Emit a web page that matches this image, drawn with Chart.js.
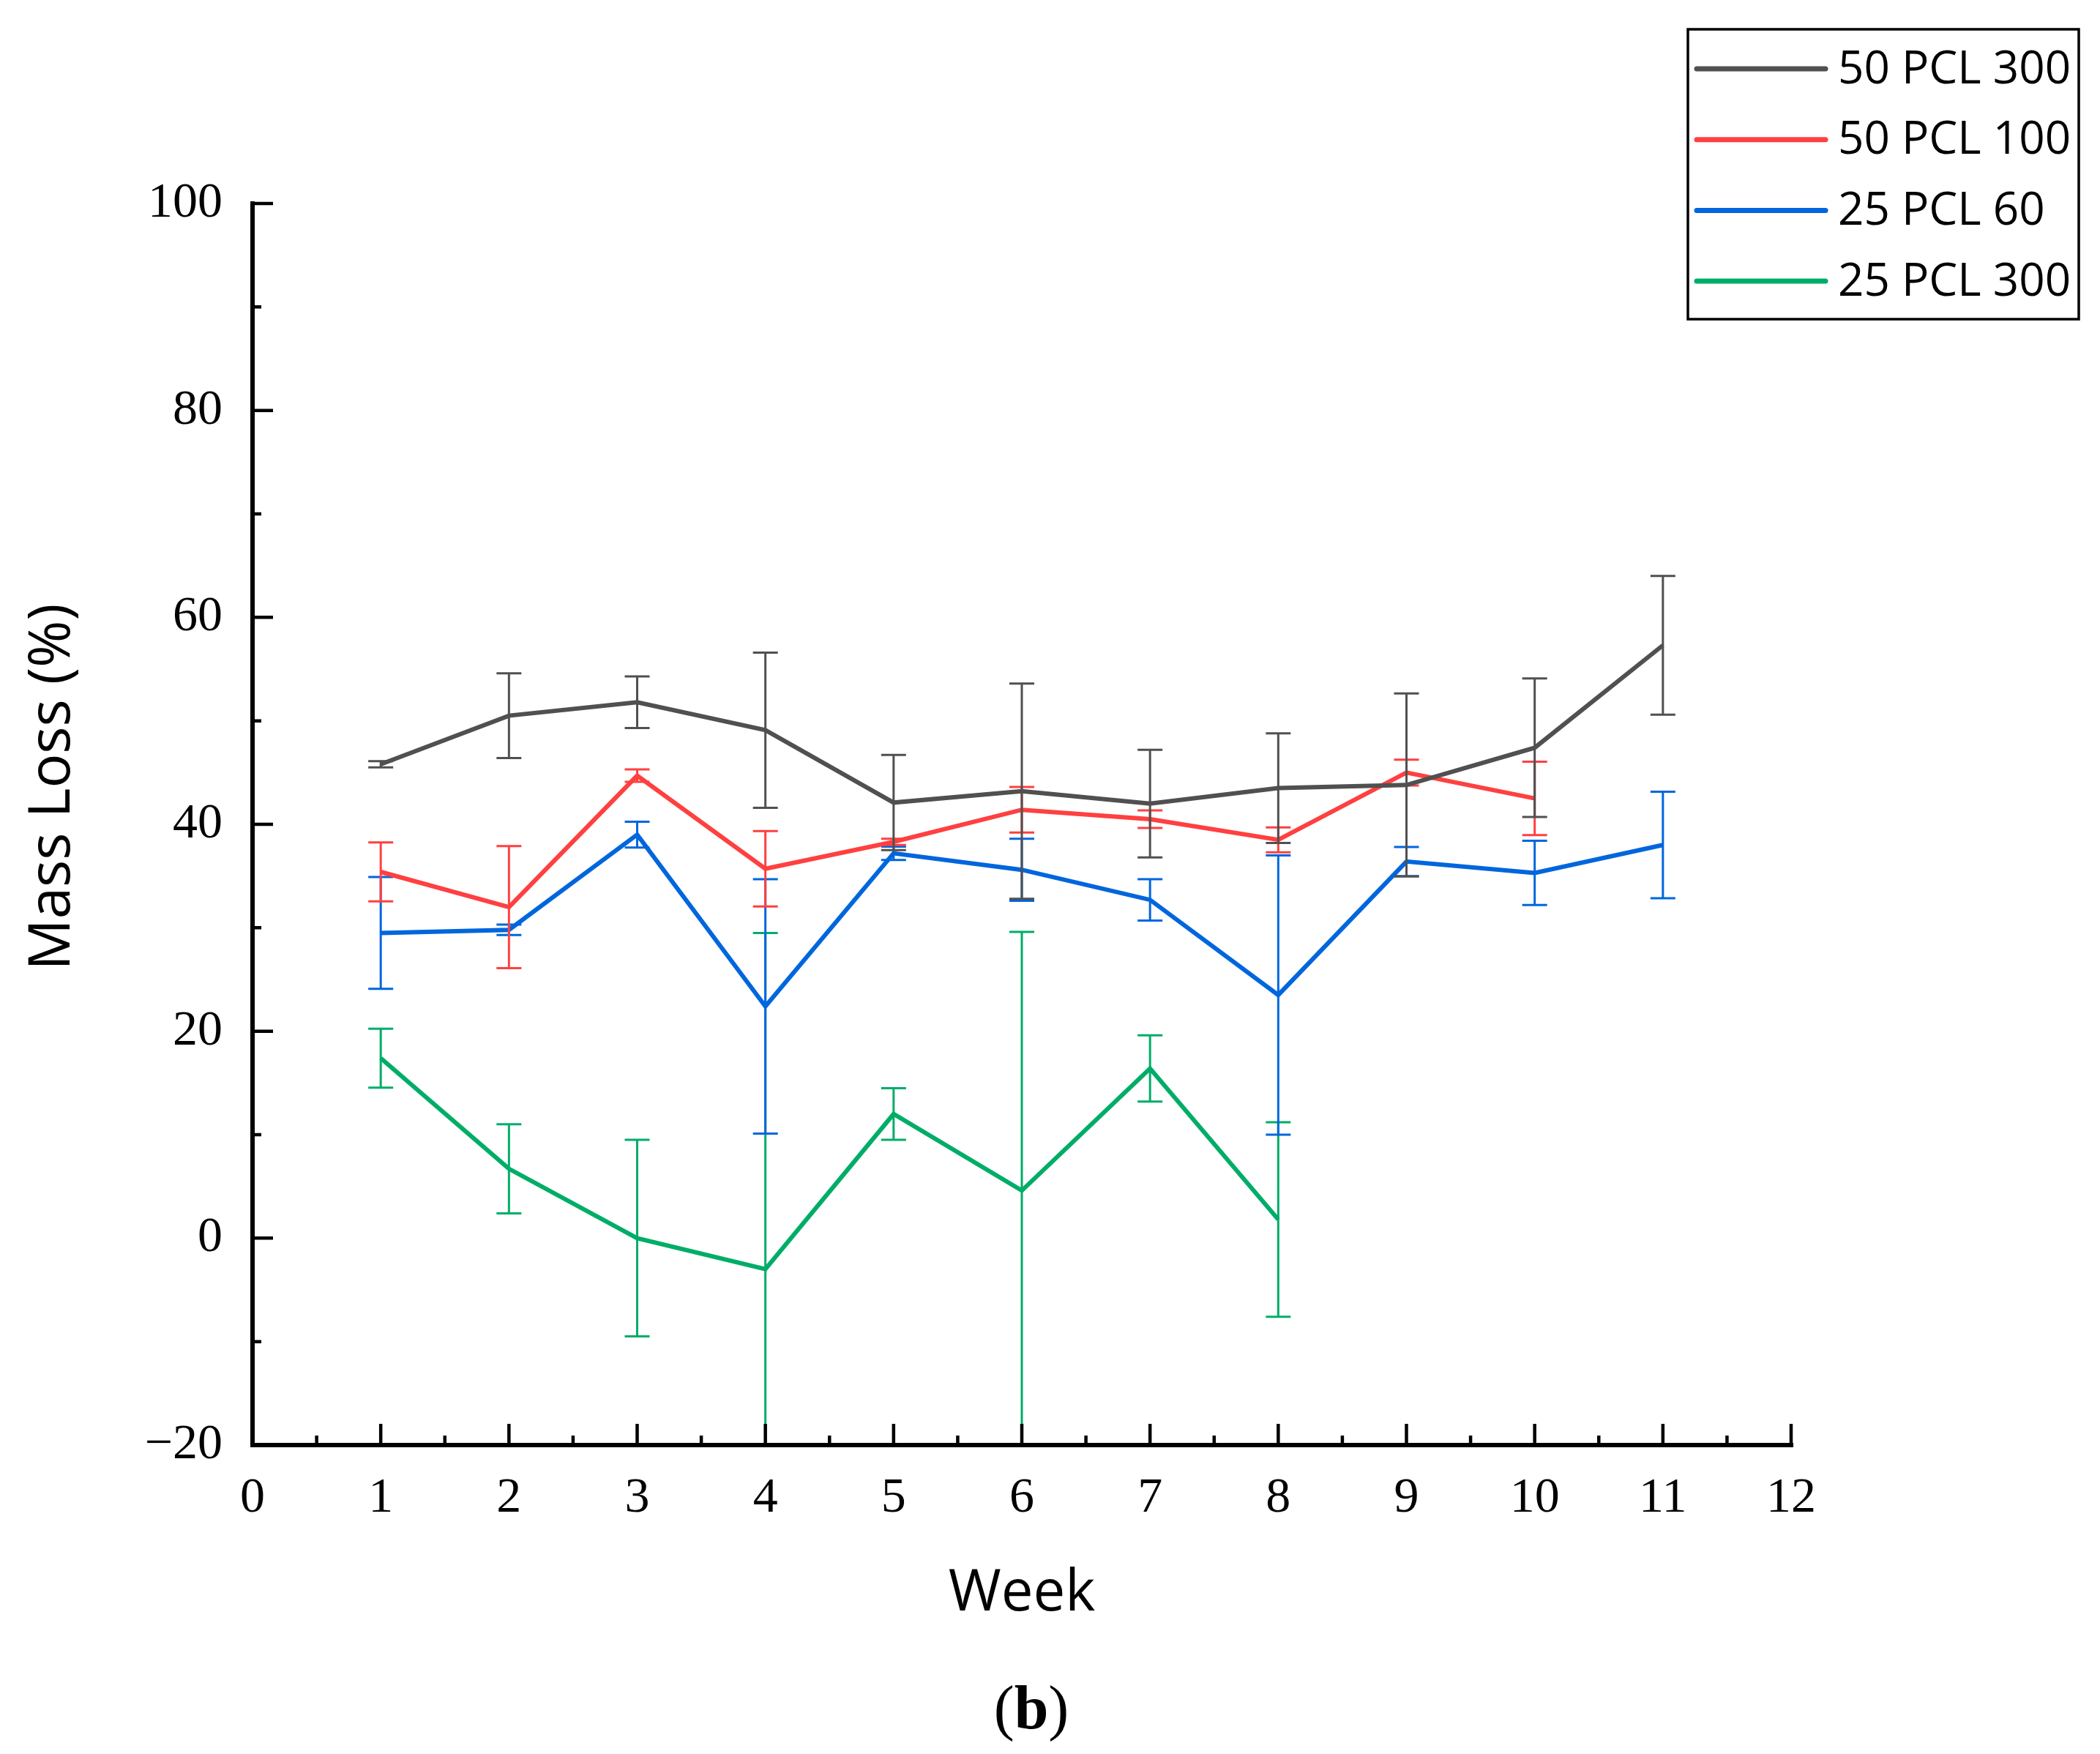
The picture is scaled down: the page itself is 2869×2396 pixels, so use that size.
<!DOCTYPE html>
<html>
<head>
<meta charset="utf-8">
<script src="https://cdn.jsdelivr.net/npm/chart.js@4.4.1/dist/chart.umd.min.js"></script>
<style>
  html, body { margin: 0; padding: 0; background: #fff; }
  #wrap { position: relative; width: 2869px; height: 2396px; }
  #caption {
    position: absolute; left: 1409px; top: 2291px; transform: translateX(-50%);
    font-family: "Liberation Serif", serif; font-size: 84px; line-height: 84px; color: #000;
  }
</style>
</head>
<body>
<div id="wrap">
  <canvas id="chart"></canvas>
  <div id="caption">(<b>b</b>)</div>
</div>
<script>
// datos
const weeks = [1, 2, 3, 4, 5, 6, 7, 8, 9, 10, 11];
const labels = ['50 PCL 300', '50 PCL 100', '25 PCL 60', '25 PCL 300'];
const colors = ['#505050', '#ff4040', '#0066dd', '#00ad68'];

const pcl50_300 = [45.8, 50.5, 51.8, 49.1, 42.1, 43.2, 42.0, 43.5, 43.8, 47.4, 57.3];
const pcl50_300Err = [0.3, 4.1, 2.5, 7.5, 4.6, 10.4, 5.2, 5.3, 8.85, 6.7, 6.7];
const pcl50_100 = [35.4, 32.0, 44.7, 35.7, 38.3, 41.4, 40.5, 38.5, 45.0, 42.5, null];
const pcl50_100Err = [2.85, 5.9, 0.6, 3.65, 0.3, 2.2, 0.85, 1.2, 1.25, 3.55, null];
const pcl25_60 = [29.5, 29.8, 39.0, 22.4, 37.2, 35.6, 32.7, 23.5, 36.4, 35.3, 38.0];
const pcl25_60Err = [5.4, 0.5, 1.25, 12.3, 0.65, 3.0, 2.0, 13.5, 1.4, 3.1, 5.15];
const pcl25_300 = [17.4, 6.7, 0.0, -3.0, 12.0, 4.6, 16.4, 1.8, null, null, null];
const pcl25_300Err = [2.85, 4.3, 9.5, 32.5, 2.5, 25.0, 3.2, 9.4, null, null, null];

const xTickValues = [0, 1, 2, 3, 4, 5, 6, 7, 8, 9, 10, 11, 12];
const yTickValues = [-20, 0, 20, 40, 60, 80, 100];

const series = [pcl50_300, pcl50_100, pcl25_60, pcl25_300];
const errors = [pcl50_300Err, pcl50_100Err, pcl25_60Err, pcl25_300Err];

const toPoints = vals => weeks.map((w, i) => ({ x: w, y: vals[i] })).filter(p => p.y !== null);

// ── barras de error ──
const errorBars = {
  id: 'errorBars',
  afterDatasetDraw(chart, args) {
    const i = args.index;
    const { ctx, chartArea: a, scales: { x, y } } = chart;
    ctx.save();
    ctx.beginPath();
    ctx.rect(a.left, a.top - 10, a.right - a.left, a.bottom - a.top + 10);
    ctx.clip();
    ctx.strokeStyle = colors[i];
    ctx.lineWidth = 3;
    series[i].forEach((v, j) => {
      if (v === null) return;
      const e = errors[i][j];
      const px = x.getPixelForValue(weeks[j]);
      const top = y.getPixelForValue(v + e);
      const bot = y.getPixelForValue(v - e);
      ctx.beginPath();
      ctx.moveTo(px, top); ctx.lineTo(px, bot);
      ctx.moveTo(px - 17, top); ctx.lineTo(px + 17, top);
      ctx.moveTo(px - 17, bot); ctx.lineTo(px + 17, bot);
      ctx.stroke();
    });
    ctx.restore();
  }
};

// ── ejes con ticks hacia adentro ──
const axes = {
  id: 'axes',
  afterDatasetsDraw(chart) {
    const { ctx, chartArea: a, scales: { x, y } } = chart;
    ctx.save();
    ctx.strokeStyle = '#000';
    ctx.lineWidth = 6;
    ctx.lineCap = 'square';
    ctx.beginPath();
    ctx.moveTo(a.left, a.top); ctx.lineTo(a.left, a.bottom); ctx.lineTo(a.right, a.bottom);
    ctx.stroke();

    ctx.lineCap = 'butt';
    ctx.lineWidth = 4.5;
    ctx.beginPath();
    yTickValues.forEach((v, k) => {
      const py = y.getPixelForValue(v);
      ctx.moveTo(a.left, py); ctx.lineTo(a.left + 28, py);
      if (k < yTickValues.length - 1) {
        const pm = y.getPixelForValue((v + yTickValues[k + 1]) / 2);
        ctx.moveTo(a.left, pm); ctx.lineTo(a.left + 12, pm);
      }
    });
    xTickValues.forEach((v, k) => {
      const px = x.getPixelForValue(v);
      ctx.moveTo(px, a.bottom); ctx.lineTo(px, a.bottom - 29);
      if (k < xTickValues.length - 1) {
        const pm = x.getPixelForValue((v + xTickValues[k + 1]) / 2);
        ctx.moveTo(pm, a.bottom); ctx.lineTo(pm, a.bottom - 13);
      }
    });
    ctx.stroke();

    // títulos de ejes
    ctx.fillStyle = '#000';
    ctx.font = '78px "Open Sans"';
    ctx.textAlign = 'center';
    ctx.textBaseline = 'alphabetic';
    ctx.fillText('Week', (a.left + a.right) / 2, 2200);
    ctx.translate(95, 1075);
    ctx.rotate(-Math.PI / 2);
    ctx.fillText('Mass Loss (%)', 0, 0);
    ctx.restore();
  }
};

// ── leyenda con recuadro ──
const legendBox = {
  id: 'legendBox',
  afterDraw(chart) {
    const { ctx } = chart;
    ctx.save();
    ctx.strokeStyle = '#000';
    ctx.lineWidth = 3.5;
    ctx.strokeRect(2306, 40, 534, 396);
    ctx.font = '62px "Open Sans"';
    ctx.textBaseline = 'middle';
    ctx.textAlign = 'left';
    labels.forEach((lab, i) => {
      const ry = 94 + i * 96.7;
      ctx.strokeStyle = colors[i];
      ctx.lineWidth = 7;
      ctx.lineCap = 'round';
      ctx.beginPath();
      ctx.moveTo(2318, ry); ctx.lineTo(2494, ry);
      ctx.stroke();
      ctx.fillStyle = '#000';
      ctx.fillText(lab, 2511, ry + 2);
    });
    ctx.restore();
  }
};

const ctx = document.getElementById('chart').getContext('2d');
new Chart(ctx, {
  type: 'line',
  data: {
    datasets: series.map((s, i) => ({
      label: labels[i],
      data: toPoints(s),
      borderColor: colors[i],
      backgroundColor: colors[i],
      borderWidth: 6,
      pointRadius: 0,
      tension: 0,
      fill: false
    }))
  },
  options: {
    responsive: true,
    maintainAspectRatio: false,
    animation: false,
    devicePixelRatio: 1,
    layout: { padding: { left: 0, top: 278, right: 422, bottom: 272 } },
    plugins: { legend: { display: false }, tooltip: { enabled: false } },
    scales: {
      x: {
        type: 'linear', min: 0, max: 12,
        afterBuildTicks: s => { s.ticks = xTickValues.map(v => ({ value: v })); },
        afterFit: s => { s.height = 150; },
        grid: { display: false, drawTicks: false },
        border: { display: false },
        ticks: {
          padding: 32, color: '#000', maxRotation: 0, autoSkip: false,
          font: { family: '"Liberation Serif", serif', size: 68 }
        }
      },
      y: {
        type: 'linear', min: -20, max: 100,
        afterBuildTicks: s => { s.ticks = yTickValues.map(v => ({ value: v })); },
        afterFit: s => { s.width = 345; },
        grid: { display: false, drawTicks: false },
        border: { display: false },
        ticks: {
          padding: 41, color: '#000',
          font: { family: '"Liberation Serif", serif', size: 68 },
          callback: v => v < 0 ? '\u2212' + Math.abs(v) : String(v)
        }
      }
    }
  },
  plugins: [errorBars, axes, legendBox]
});
</script>
</body>
</html>
